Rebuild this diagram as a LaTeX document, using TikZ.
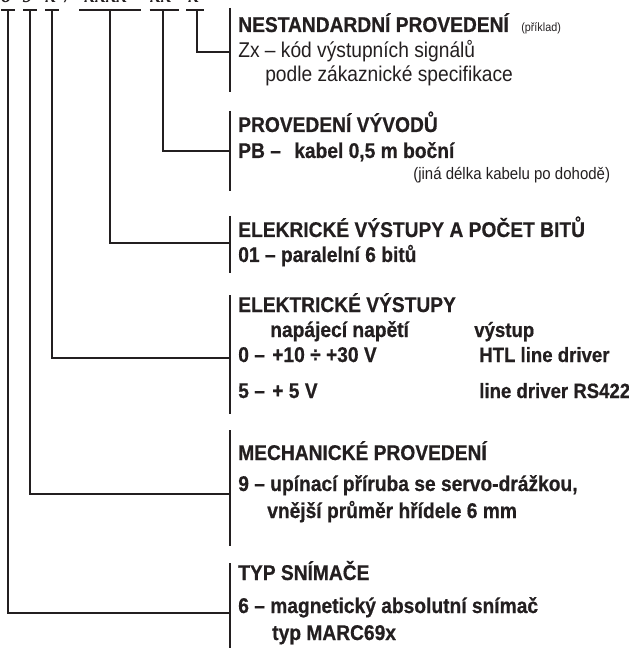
\documentclass[tikz,border=0pt]{standalone}
\usepackage{fontspec}
\setmainfont{Liberation Sans}[FakeStretch=0.9,BoldFeatures={FakeBold=0.6}]
\newfontfamily\codefont{Liberation Serif}
\definecolor{ink}{HTML}{231F20}
\begin{document}
\begin{tikzpicture}[x=0.75pt,y=-0.75pt,line join=miter,
  txt/.style={anchor=base west,inner sep=0pt,text=ink,font=\fontsize{16}{19}\selectfont},
  hd/.style={txt,font=\fontsize{16}{19}\selectfont\bfseries},
  hdn/.style={txt,font=\fontsize{15.5}{19}\selectfont\bfseries},
  tiny/.style={txt,font=\fontsize{9}{10}\selectfont},
  sm/.style={txt,font=\fontsize{12.5}{14}\selectfont},
  code/.style={anchor=base,inner sep=0pt,text=ink,font=\fontsize{16}{19}\selectfont\codefont\bfseries\itshape},
  wire/.style={draw=ink,line width=1.5pt},
]
\useasboundingbox (0,0) rectangle (628,648);
%%
  % order code (only its lower edge is inside the picture)
  \node (code_1) at (6,3) [code] {6};
  \node (code_2) at (28,3) [code] {9};
  \node (code_3) at (51,3) [code] {x};
  \node (code_4) at (68,3) [code] {/};
  \node (code_5) at (106,3) [code] {xxxx};
  \node (code_6) at (161,3) [code] {xx};
  \node (code_7) at (194,3) [code] {x};

  % NESTANDARDNI PROVEDENI
  \node (node_0) at (238,32) [hd] {NESTANDARDNÍ PROVEDENÍ};
  \node (node_1) at (521,32) [tiny] {(příklad)};
  \node (node_2) at (238,58) [txt] {Zx – kód výstupních signálů};
  \node (node_3) at (265,82) [txt] {podle zákaznické specifikace};

  % PROVEDENI VYVODU
  \node (node_4) at (238,132) [hd] {PROVEDENÍ VÝVODŮ};
  \node (node_5) at (238,158) [hd] {PB –};
  \node (node_6) at (294,158) [hd] {kabel 0,5 m boční};
  \node (node_7) at (413,180) [sm] {(jiná délka kabelu po dohodě)};

  % ELEKRICKE VYSTUPY A POCET BITU
  \node (node_8) at (238,237) [hd] {ELEKRICKÉ VÝSTUPY A POČET BITŮ};
  \node (node_9) at (238,262) [hd] {01 – paralelní 6 bitů};

  % ELEKTRICKE VYSTUPY
  \node (node_10) at (238,312) [hd] {ELEKTRICKÉ VÝSTUPY};
  \node (node_11) at (270,337) [hd] {napájecí napětí};
  \node (node_12) at (474,337) [hdn] {výstup};
  \node (node_13) at (238,362) [hd] {0 –};
  \node (node_14) at (272,362) [hd] {+10 ÷ +30 V};
  \node (node_15) at (479,362) [hdn] {HTL line driver};
  \node (node_16) at (238,398) [hd] {5 –};
  \node (node_17) at (272,398) [hd] {+ 5 V};
  \node (node_18) at (479,398) [hdn] {line driver RS422};

  % MECHANICKE PROVEDENI
  \node (node_19) at (238,460) [hd] {MECHANICKÉ PROVEDENÍ};
  \node (node_20) at (238,491) [hd] {9 – upínací příruba se servo-drážkou,};
  \node (node_21) at (267,518) [hd] {vnější průměr hřídele 6 mm};

  % TYP SNIMACE
  \node (node_22) at (238,580) [hd] {TYP SNÍMAČE};
  \node (node_23) at (238,613) [hd] {6 – magnetický absolutní snímač};
  \node (node_24) at (272,640) [hd] {typ MARC69x};

  % bars in front of the sections
  \coordinate (sec_1_t) at (230,8);   \coordinate (sec_1_b) at (230,92);
  \coordinate (sec_2_t) at (230,111); \coordinate (sec_2_b) at (230,191);
  \coordinate (sec_3_t) at (230,216); \coordinate (sec_3_b) at (230,273);
  \coordinate (sec_4_t) at (230,295); \coordinate (sec_4_b) at (230,414);
  \coordinate (sec_5_t) at (230,430); \coordinate (sec_5_b) at (230,546);
  \coordinate (sec_6_t) at (230,563); \coordinate (sec_6_b) at (230,648);
  \draw [wire] (sec_1_t) -- (sec_1_b);
  \draw [wire] (sec_2_t) -- (sec_2_b);
  \draw [wire] (sec_3_t) -- (sec_3_b);
  \draw [wire] (sec_4_t) -- (sec_4_b);
  \draw [wire] (sec_5_t) -- (sec_5_b);
  \draw [wire] (sec_6_t) -- (sec_6_b);

  % leads from the code to the sections
  \coordinate (col_1) at (8,10);   \coordinate (hook_1) at (230,613);
  \coordinate (col_2) at (30,10);  \coordinate (hook_2) at (230,494);
  \coordinate (col_3) at (52,10);  \coordinate (hook_3) at (230,358);
  \coordinate (col_4) at (110,10); \coordinate (hook_4) at (230,243);
  \coordinate (col_5) at (163,10); \coordinate (hook_5) at (230,151);
  \coordinate (col_6) at (197,10); \coordinate (hook_6) at (230,52);
  \draw [wire] (col_1) |- (hook_1);
  \draw [wire] (col_2) |- (hook_2);
  \draw [wire] (col_3) |- (hook_3);
  \draw [wire] (col_4) |- (hook_4);
  \draw [wire] (col_5) |- (hook_5);
  \draw [wire] (col_6) |- (hook_6);
  \draw [wire] ([xshift=-5]col_1) -- ([xshift=5]col_1);
  \draw [wire] ([xshift=-5]col_2) -- ([xshift=5]col_2);
  \draw [wire] ([xshift=-5]col_3) -- ([xshift=5]col_3);
  \draw [wire] ([xshift=-23]col_4) -- ([xshift=23]col_4);
  \draw [wire] ([xshift=-10]col_5) -- ([xshift=12]col_5);
  \draw [wire] ([xshift=-8]col_6) -- ([xshift=5]col_6);
%
\end{tikzpicture}
\end{document}
